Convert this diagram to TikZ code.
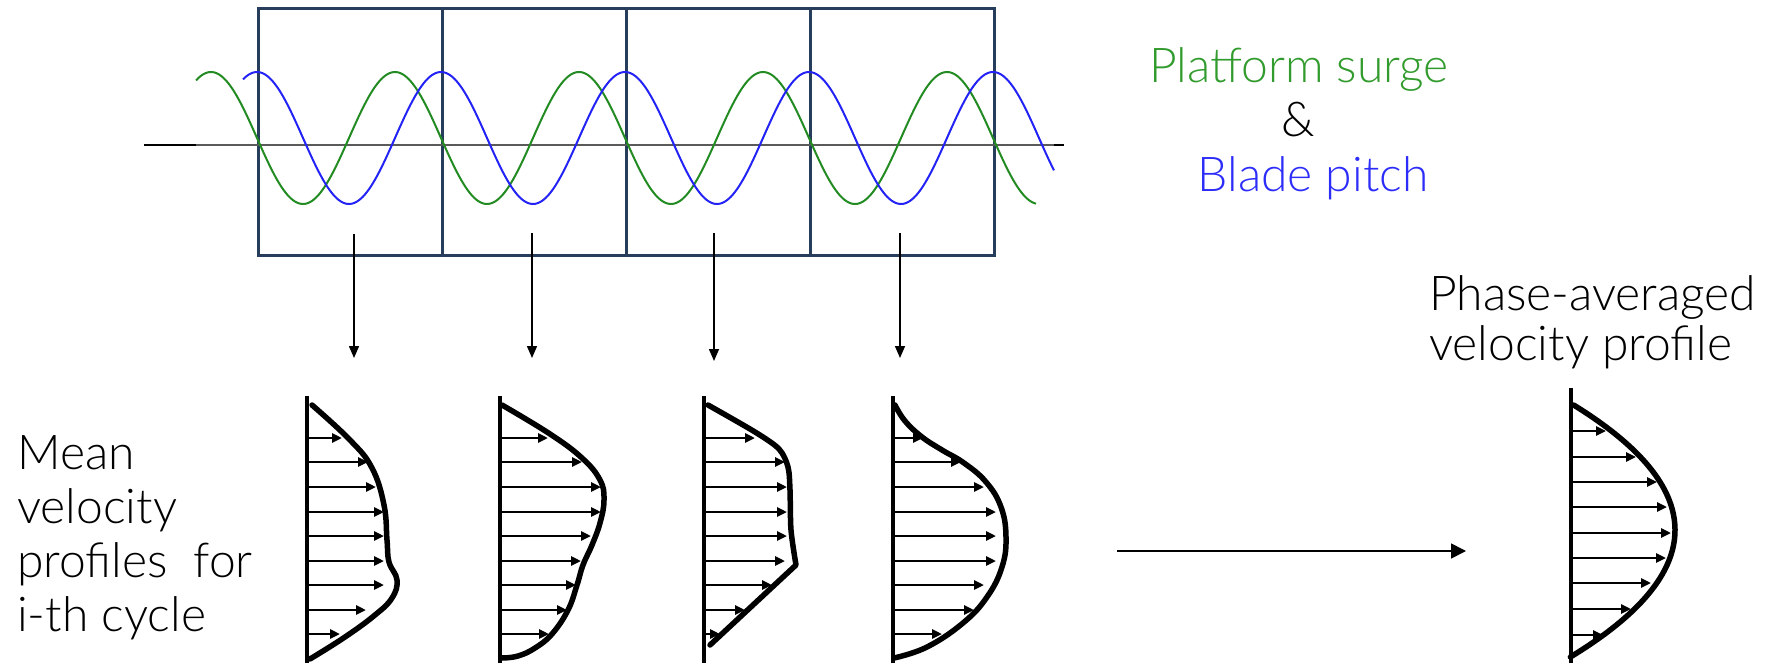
\documentclass[tikz,border=0pt]{standalone}
\usepackage{fontspec}
\setmainfont{Lato}[UprightFont={* Light}]
\usetikzlibrary{arrows.meta}
\definecolor{boxc}{RGB}{38,62,92}
\definecolor{wgreen}{RGB}{34,139,34}
\definecolor{wblue}{RGB}{35,35,245}
\definecolor{tgreen}{RGB}{50,155,45}
\definecolor{tblue}{RGB}{45,45,250}
\definecolor{axisg}{RGB}{90,90,90}
\begin{document}
\begin{tikzpicture}[x=1pt,y=-1pt,
  cyc/.style={draw=boxc, line width=2.6pt, minimum width=184pt, minimum height=247pt, anchor=north west, inner sep=0pt},
  wall/.style={line width=3.2pt},
  prof/.style={line width=5.5pt, line cap=round, line join=round},
  vel/.style={line width=2.8pt, -{Triangle[length=10pt,width=9pt]}},
  down/.style={line width=1.5pt, -{Triangle[length=12pt,width=10pt]}},
  lbl/.style={inner sep=0pt, font=\fontsize{48}{54}\selectfont}
]
\useasboundingbox (0,0) rectangle (1781,666);

% cycle boxes
\node[cyc] (c1) at (257,7) {};
\node[cyc] (c2) at (441,7) {};
\node[cyc] (c3) at (625,7) {};
\node[cyc] (c4) at (809,7) {};

% axis
\draw[line width=1.6pt] (144,145) -- (1064,145);
\draw[axisg, line width=1.6pt] (196,145) -- (1054,145);

% waves
\draw[wgreen, line width=2pt] plot[domain=196:1036, samples=400] (\x, {138+66*sin(1.956522*(\x-257))});
\draw[wblue, line width=2pt] plot[domain=243:1054, samples=400] (\x, {138-66*cos(1.956522*(\x-257))});

% labels
\node[lbl, text=tgreen, anchor=base] (ps) at (1299,83) {Platform surge};
\node[lbl, anchor=base] (amp) at (1298,137) {\&};
\node[lbl, text=tblue, anchor=base] (bp) at (1313,192) {Blade pitch};
\node[lbl, align=left, anchor=base west] (mean) at (17,631) {Mean\\velocity\\profiles~ for\\i-th cycle};
\node[lbl, align=left, anchor=base west, font=\fontsize{48}{50}\selectfont] (pa) at (1429,360) {Phase-averaged\\velocity profile};

% down arrows
\coordinate (a1) at (354,234); \coordinate (b1) at (354,358);
\coordinate (a2) at (532,233); \coordinate (b2) at (532,358);
\coordinate (a3) at (714,233); \coordinate (b3) at (714,361);
\coordinate (a4) at (900,233); \coordinate (b4) at (900,358);
\draw[down] (a1) -- (b1);
\draw[down] (a2) -- (b2);
\draw[down] (a3) -- (b3);
\draw[down] (a4) -- (b4);

% averaging arrow
\coordinate (m1) at (1117,551); \coordinate (m2) at (1466,551);
\draw[line width=1.6pt, -{Triangle[length=15pt,width=15pt]}] (m1) -- (m2);

% profile 1
\draw[wall] (307,396) -- (307,663);
\foreach \y/\t in {438/342,462/368,487/376,512/384,536/384,561/384,585/384,610/366,634/340}
  \draw[vel] (307,\y) -- (\t,\y);
\draw[prof] plot[smooth, tension=0.7] coordinates {(312,405) (350,440) (372,468) (384,505) (387,540) (389,562) (397,580) (392,598) (375,615) (345,637) (310,659)};

% profile 2
\draw[wall] (500,396) -- (500,663);
\foreach \y/\t in {438/548,462/582,487/601,512/601,536/591,561/581,585/576,610/567,634/549}
  \draw[vel] (500,\y) -- (\t,\y);
\draw[prof] plot[smooth, tension=0.7] coordinates {(502,405) (550,434) (582,458) (600,480) (604,500) (600,523) (592,545) (583,565) (577,585) (568,610) (552,634) (535,648) (518,656) (502,658)};

% profile 3
\draw[wall] (704,396) -- (704,663);
\foreach \y/\t in {438/755,462/785,487/787,512/787,536/787,561/785,585/772,610/745,634/720}
  \draw[vel] (704,\y) -- (\t,\y);
\draw[prof] plot[smooth, tension=0.5] coordinates {(708,405) (755,432) (779,449) (788,467) (790,490) (791,530) (796,565)} -- (710,645);

% profile 4
\draw[wall] (893,396) -- (893,663);
\foreach \y/\t in {438/923,462/961,487/984,512/996,536/996,561/996,585/984,610/974,634/942}
  \draw[vel] (893,\y) -- (\t,\y);
\draw[prof] plot[smooth, tension=0.7] coordinates {(895,405) (905,421) (922,437) (942,450) (964,463) (986,482) (1001,507) (1006,537) (1002,567) (987,597) (963,623) (927,647) (894,658)};

% phase-averaged profile
\draw[wall] (1571,388) -- (1571,663);
\foreach \y/\t in {431/1606,457/1636,482/1657,507/1667,533/1671,558/1666,583/1651,609/1631,635/1603}
  \draw[vel] (1571,\y) -- (\t,\y);
\draw[prof] plot[domain=405:657, samples=80] ({1572+103*(1-((\x-530)/126)^2)}, \x);
\end{tikzpicture}
\end{document}
